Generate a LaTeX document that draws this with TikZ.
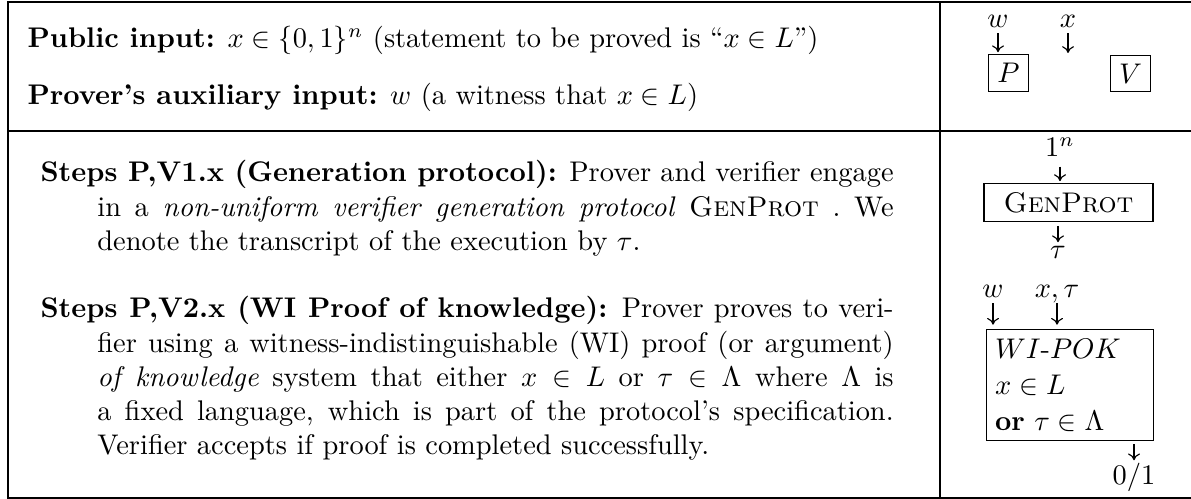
\documentclass[tikz,border=0pt]{standalone}
\usetikzlibrary{arrows.meta}
\newcommand\jl[2]{\hbox to #1{#2}}
\begin{document}
\begin{tikzpicture}[x=0.352pt,y=-0.352pt,
  frame/.style={line width=0.45pt, draw=black},
  lbl/.style={inner sep=0pt},
  arr/.style={-{To[length=2.4pt,width=4.2pt]}, line width=0.4pt},
  box/.style={draw, line width=0.4pt, inner sep=3pt},
  txt/.style={inner sep=0pt, anchor=base west}]
\useasboundingbox (0,0) rectangle (1191,499);
% table frame
\draw[frame] (1191,2) -- (8,2) -- (8,498) -- (1191,498);
\draw[frame] (8,131) -- (1191,131);
\draw[frame] (940,2) -- (940,498);
% left column
\node[txt] (pub) at (27,48) {\textbf{Public input:} $x\in\{0,1\}^n$ (statement to be proved is ``$x\in L$'')};
\node[txt] (aux) at (27,105) {\textbf{Prover's auxiliary input:} $w$ (a witness that $x\in L$)};
\node[txt] (s1) at (40,182) {\vtop{\baselineskip=12pt
  \jl{300.3pt}{\textbf{Steps P,V1.x (Generation protocol):} Prover and verifier engage}
  \hbox{\hskip20pt\jl{280.3pt}{\frenchspacing in a \emph{non-uniform verifier generation protocol} \textsc{GenProt} . We}}
  \hbox{\hskip20pt denote the transcript of the execution by $\tau$.}}};
\node[txt] (s2) at (40,318) {\vtop{\baselineskip=12pt
  \jl{300.3pt}{\textbf{Steps P,V2.x (WI Proof of knowledge):} Prover proves to veri-}
  \hbox{\hskip20pt\jl{280.3pt}{fier using a witness-indistinguishable (WI) proof (or argument)}}
  \hbox{\hskip20pt\jl{280.3pt}{\emph{of knowledge} system that either $x\in L$ or $\tau\in\Lambda$ where $\Lambda$ is}}
  \hbox{\hskip20pt\jl{280.3pt}{a fixed language, which is part of the protocol's specification.}}
  \hbox{\hskip20pt Verifier accepts if proof is completed successfully.}}};
% right column, row 1
\node[lbl, anchor=base] (w1) at (998,28) {$w$};
\node[lbl, anchor=base] (x1) at (1068,28) {$x$};
\node[box] (P) at (1008.5,73) {$P$};
\node[box] (V) at (1130.5,73.5) {$V$};
\coordinate (xend) at (1068,53);
\draw[arr, shorten <=1.8pt, shorten >=0.7pt] (w1.base) -- (w1.base |- P.north);
\draw[arr, shorten <=1.8pt] (x1.base) -- (xend);
% right column, generation protocol
\node[lbl, anchor=base] (one) at (1060,157) {$1^n$};
\node[box, minimum width=59.5pt, minimum height=13pt] (gen) at (1068.5,202.5) {\textsc{GenProt}};
\draw[arr, shorten <=3.4pt, shorten >=0.7pt] (one.base) -- (one.base |- gen.north);
\node[lbl, anchor=base] (tau) at (1058,259) {$\tau$};
\draw[arr, shorten <=1.4pt, shorten >=1.4pt] (gen.south -| tau.north) -- (tau.north);
% right column, WI proof of knowledge
\node[lbl, anchor=base] (w2) at (993,298) {$w$};
\node[lbl, anchor=base] (xt) at (1057,298) {$x,\tau$};
\node[box, anchor=north west, text width=52.8pt, minimum height=39.1pt, align=left,
      font=\fontsize{10}{12.7}\selectfont] (wi) at (986,329)
      {$WI$-$POK$\\$x\in L$\\\textbf{or} $\tau\in\Lambda$};
\draw[arr, shorten <=1.8pt, shorten >=1.5pt] (w2.base) -- (w2.base |- wi.north);
\draw[arr, shorten <=1.8pt, shorten >=1.5pt] (xt.base) -- (xt.base |- wi.north);
\node[lbl, anchor=base] (zo) at (1134,485) {$0/1$};
\draw[arr, shorten <=1pt, shorten >=1pt] (wi.south -| zo.north) -- (zo.north);
\end{tikzpicture}
\end{document}
